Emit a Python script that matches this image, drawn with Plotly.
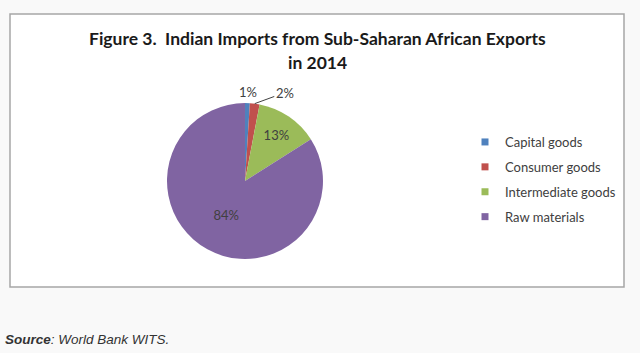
import math
import plotly.graph_objects as go

categories = ["Capital goods", "Consumer goods", "Intermediate goods", "Raw materials"]
shares = [1, 2, 13, 84]
colors = ["#4F81BD", "#C0504D", "#9BBB59", "#8064A2"]
label_positions = ["outside", "outside", "inside", "inside"]
title_lines = ["Figure 3.  Indian Imports from Sub-Saharan African Exports", "in 2014"]

W, H = 640, 353
dom_x = [0.2609, 0.5047]
dom_y = [0.2663, 0.7082]
label_font = dict(family="Lato, Open Sans, sans-serif", size=13, color="#404040")

fig = go.Figure()
fig.add_trace(go.Pie(
    labels=categories, values=shares, sort=False, direction="clockwise",
    rotation=0, marker=dict(colors=colors, line=dict(width=0)),
    texttemplate=["" if p == "outside" else "%{value}%" for p in label_positions],
    textposition="inside", textfont=label_font,
    insidetextorientation="horizontal",
    domain=dict(x=dom_x, y=dom_y),
    showlegend=False, hoverinfo="label+percent",
))

# outside labels placed from the data's slice angles
cx = (dom_x[0] + dom_x[1]) / 2 * W
cy = (1 - (dom_y[0] + dom_y[1]) / 2) * H
r = min((dom_x[1] - dom_x[0]) * W, (dom_y[1] - dom_y[0]) * H) / 2
total = sum(shares)
cum = 0
for i, (v, pos) in enumerate(zip(shares, label_positions)):
    mid = (cum + v / 2) / total * 2 * math.pi
    cum += v
    if pos != "outside":
        continue
    ex = cx + r * math.sin(mid)
    ey = cy - r * math.cos(mid)
    if i == 0:
        fig.add_annotation(xref="paper", yref="paper",
                           x=(cx + 1.14 * r * math.sin(mid)) / W,
                           y=1 - (cy - 1.14 * r * math.cos(mid)) / H,
                           xanchor="center", yanchor="middle",
                           text=f"{v}%", showarrow=False, font=label_font)
    else:
        fig.add_annotation(xref="paper", yref="paper", x=ex / W, y=1 - ey / H,
                           text=f"{v}%", showarrow=True, arrowhead=0, arrowwidth=1,
                           arrowcolor="#404040", ax=30, ay=-11, standoff=0,
                           font=label_font)

for name, col in zip(categories, colors):
    fig.add_trace(go.Scatter(
        x=[None], y=[None], mode="markers", name=name, legendgroup=name,
        marker=dict(symbol="square", size=7, color=col),
    ))

fig.add_shape(type="rect", xref="paper", yref="paper",
              x0=10 / W, x1=624 / W, y0=1 - 287 / H, y1=1 - 14 / H,
              line=dict(color="#A6A6A6", width=1.5), fillcolor="white", layer="below")
for line, ypx in zip(title_lines, [38, 62]):
    fig.add_annotation(xref="paper", yref="paper", x=317 / W, y=1 - ypx / H,
                       text=f"<b>{line}</b>",
                       showarrow=False, xanchor="center", yanchor="middle",
                       font=dict(family="Lato, Open Sans, sans-serif", size=17.5, color="#1a1a1a"))
fig.add_annotation(xref="paper", yref="paper", x=3 / W, y=1 - 339 / H,
                   text="<b><i>Source</i></b><i>: World Bank WITS.</i>",
                   showarrow=False, xanchor="left", yanchor="middle",
                   font=dict(family="Liberation Sans, Arial, sans-serif", size=13.5, color="#333333"))

fig.update_layout(
    width=W, height=H, margin=dict(l=0, r=0, t=0, b=0),
    paper_bgcolor="#F9F9F9", plot_bgcolor="rgba(0,0,0,0)",
    xaxis=dict(visible=False), yaxis=dict(visible=False),
    legend=dict(x=465 / W, y=1 - 127 / H, xanchor="left", yanchor="top",
                bgcolor="rgba(0,0,0,0)", tracegroupgap=5,
                font=dict(family="Lato, Open Sans, sans-serif", size=13, color="#404040")),
)
fig.write_html("out.html")
